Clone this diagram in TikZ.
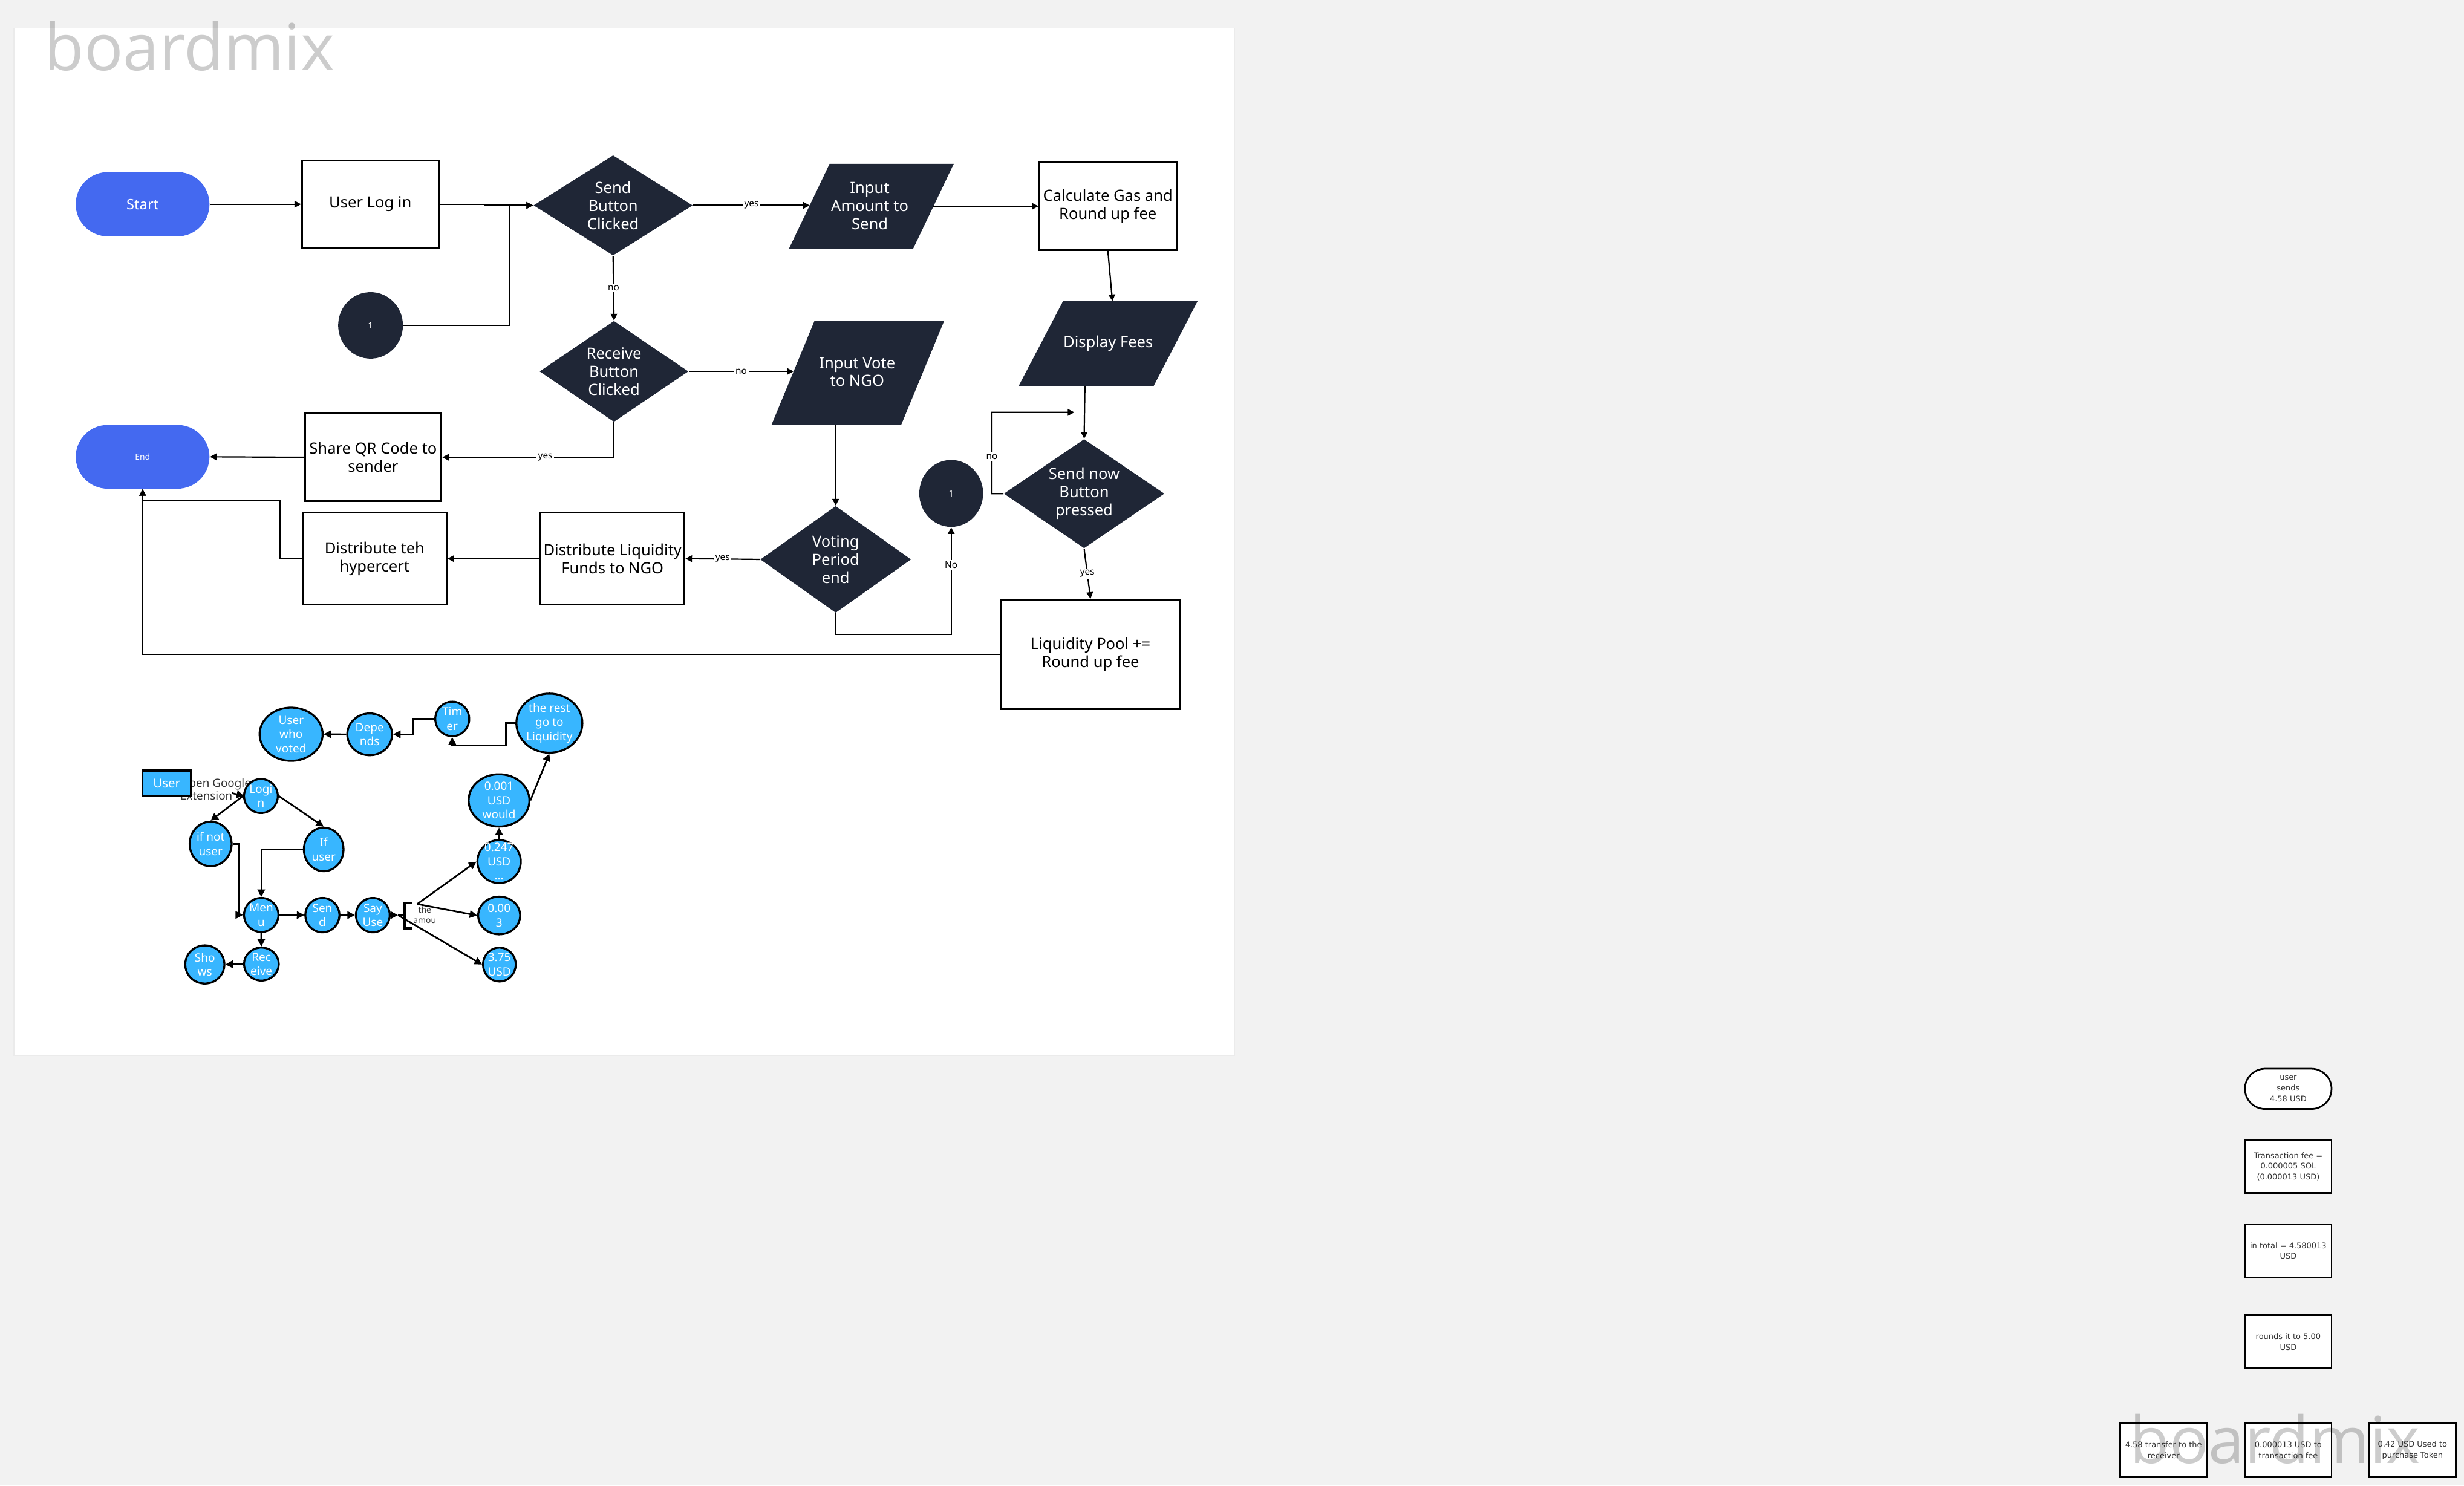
\documentclass[tikz,border=0pt]{standalone}
\usepackage{fontspec}
\setmainfont{Noto Sans}
\newfontfamily\wmfont{Open Sans}
\newfontfamily\legfont{DejaVu Sans}
\usetikzlibrary{arrows.meta,calc,shapes.geometric}
\definecolor{navy}{HTML}{1F2636}
\definecolor{pillblue}{HTML}{4469F0}
\definecolor{bubblue}{HTML}{38B6FF}
\definecolor{bggray}{HTML}{F2F2F2}
\definecolor{txtgray}{HTML}{333333}
\newcommand\fs[2]{\fontsize{#1}{#2}\selectfont}
\begin{document}
\begin{tikzpicture}[x=0.025cm,y=-0.025cm,
  sz/.style 2 args={minimum width=#1*0.025cm,minimum height=#2*0.025cm},
  pill/.style={rectangle,rounded corners=0.51cm,fill=pillblue,inner sep=0pt,text=white},
  box/.style={rectangle,draw=black,line width=0.8pt,fill=white,inner sep=1pt,align=center,font=\fs{7pt}{8.2pt}},
  dia/.style={diamond,fill=navy,inner sep=0pt},
  dtxt/.style={text=white,align=center,font=\fs{7pt}{8.2pt},inner sep=0pt},
  circ/.style={ellipse,fill=navy,inner sep=0pt,text=white,font=\fs{4pt}{5pt}},
  lbl/.style={fill=white,inner sep=0.7pt,font=\fs{4.2pt}{5pt},text=black},
  arr/.style={line width=0.6pt,-{Triangle[length=3pt,width=3pt]}},
  bub/.style={ellipse,draw=black,line width=0.9pt,fill=bubblue,inner sep=0pt},
  btxt/.style={text=white,align=center,font=\fs{5.2pt}{6.4pt},inner sep=0pt},
  carr/.style={line width=0.75pt,-{Triangle[length=3.4pt,width=3.4pt]}},
  cl/.style={line width=0.75pt},
  lbox/.style={rectangle,draw=black,line width=0.75pt,fill=white,align=center,font=\legfont\fs{3.55pt}{4.9pt},text=txtgray,inner sep=0.5pt},
  wm/.style={anchor=base west,inner sep=0pt,font=\wmfont\fs{29.3pt}{30pt},text=black,text opacity=0.2}
]
\useasboundingbox (0,0) rectangle (1568,945.28);
\fill[bggray] (0,0) rectangle (1568,945.28);
\filldraw[fill=white,draw=black!8,line width=0.4pt] (8.9,18) rectangle (785.7,671.6);
\node[wm] (wm1) at (28,44.7) {boardmix};

% ---------- main flow shapes ----------
\node[pill,sz={85.1}{40.9},font=\fs{6.5pt}{7.5pt}] (start) at (90.75,129.95) {Start};
\node[box,sz={86.9}{55.5}] (login) at (235.65,129.95) {User Log in};
\node[dia,sz={101.3}{63.8},label={[dtxt]center:{Send\\Button\\Clicked}}] (send) at (390.15,130.7) {};
\fill[navy] (527.9,104.3) -- (606.9,104.3) -- (581.1,158.2) -- (502.1,158.2) -- cycle;
\node[dtxt] (inamt) at (553.5,131) {Input\\Amount to\\Send};
\coordinate (inamtW) at (515.3,130.7);
\coordinate (inamtE) at (594,131.25);
\node[box,sz={87.2}{55.5}] (calc) at (705,131.25) {Calculate Gas and\\Round up fee};
\fill[navy] (676.5,191.6) -- (762.1,191.6) -- (734.1,245.7) -- (648.2,245.7) -- cycle;
\node[dtxt] (disp) at (705.2,218.4) {Display Fees};
\coordinate (dispN) at (707.9,191.6);
\coordinate (dispS) at (690.4,245.7);
\node[circ,sz={41.2}{42.3}] (c1a) at (235.8,207.05) {1};
\node[dia,sz={94.8}{64.3},label={[dtxt]center:{Receive\\Button\\Clicked}}] (recv) at (390.7,236.35) {};
\fill[navy] (518.4,204) -- (600.9,204) -- (573.4,270.5) -- (490.9,270.5) -- cycle;
\node[dtxt] (invote) at (545.5,236.7) {Input Vote\\to NGO};
\coordinate (invW) at (505,236.35);
\coordinate (invS) at (531.7,270.5);
\node[pill,sz={85.1}{40.6},font=\fs{3.8pt}{4.5pt}] (end) at (90.75,290.7) {End};
\node[box,sz={86.9}{55.6}] (share) at (237.45,291) {Share QR Code to\\sender};
\node[dia,sz={102.2}{69.5},label={[dtxt]center:{Send now\\Button\\pressed}}] (sendnow) at (689.9,314.15) {};
\node[circ,sz={40.6}{42.6}] (c1b) at (605.3,314) {1};
\node[dia,sz={96}{68},label={[dtxt]center:{Voting\\Period\\end}}] (vote) at (531.8,356) {};
\node[box,sz={91.6}{58.6}] (distliq) at (389.8,355.5) {Distribute Liquidity\\Funds to NGO};
\node[box,sz={91.6}{58.6}] (disthyp) at (238.4,355.5) {Distribute teh\\hypercert};
\node[box,sz={113.7}{69.7}] (liq) at (693.95,416.45) {Liquidity Pool +=\\Round up fee};
\coordinate (snloop) at (683.7,262.4);

% ---------- main flow connectors ----------
\draw[arr] (start.east) -- (login.west);
\draw[arr] (login.east) -- ++(29,0) |- (send.west);
\draw[arr] (c1a.east) -| ($(send.west)+(-15.3,0)$) -- (send.west);
\draw[arr] (send.east) -- node[lbl]{yes} (inamtW);
\draw[arr] (inamtE) -- (calc.west);
\draw[arr] (calc.south) -- (dispN);
\draw[arr] (dispS) -- (sendnow.north);
\draw[arr] (sendnow.west) -- ++(-7.3,0) -- node[lbl,pos=0.455]{no} ++(0,-51.75) -- (snloop);
\draw[arr] (sendnow.south) -- node[lbl]{yes} (liq.north);
\draw[arr] (send.south) -- node[lbl]{no} (recv.north);
\draw[arr] (recv.east) -- node[lbl]{no} (invW);
\draw[arr] (recv.south) |- node[lbl,pos=0.7]{yes} (share.east);
\draw[arr] (share.west) -- (end.east);
\draw[arr] (invS) -- (vote.north);
\draw[arr] (vote.west) -- node[lbl]{yes} (distliq.east);
\draw[arr] (distliq.west) -- (disthyp.east);
\draw[arr] (disthyp.west) -- ++(-14,0) -- ++(0,-36.9) -| (end.south);
\draw[arr] (vote.south) -- ++(0,13.5) -| node[lbl,pos=0.825]{No} (c1b.south);
\draw[arr] (liq.west) -| (end.south);

% ---------- cluster ----------
\node[anchor=north west,align=left,font=\fs{5.15pt}{5.9pt},text=txtgray,inner sep=0pt] (ogl) at (114.4,495) {Open Google\\Extension};
\draw[carr,shorten <=0.675cm] (121.5,498.45) -- (155.3,506.55);
\node[draw=black,line width=1pt,fill=bubblue,sz={30.8}{16.1},text=white,font=\fs{5.6pt}{6.5pt},inner sep=0pt] (user) at (106.1,498.45) {User};

\node[bub,sz={40.1}{33.9},label={[btxt]center:{User\\who\\voted}}] (uwv) at (185.25,467.25) {};
\node[bub,sz={28.5}{26.6},label={[btxt]center:{Depe\\nds}}] (dep) at (235.25,467.3) {};
\node[bub,sz={21.6}{22},label={[btxt]center:{Tim\\er}}] (tim) at (287.8,457.5) {};
\node[bub,sz={42}{37.6},label={[btxt]center:{the rest\\go to\\Liquidity}}] (rest) at (349.6,460.2) {};
\node[bub,sz={38.7}{33.3},label={[btxt]center:{0.001\\USD\\would}}] (v001) at (317.55,509.35) {};
\node[bub,sz={27.6}{27.4},label={[btxt]center:{0.247\\USD\\...}}] (v247) at (317.6,548.3) {};
\node[bub,sz={26.7}{24},label={[btxt]center:{0.00\\3}}] (v003) at (317.65,582.6) {};
\node[bub,sz={20.8}{21.6},label={[btxt]center:{3.75\\USD}}] (v375) at (317.8,613.8) {};
\node[bub,sz={21.5}{21.7},label={[btxt]center:{Logi\\n}}] (login2) at (166.05,506.55) {};
\node[bub,sz={26.7}{28.3},label={[btxt]center:{if not\\user}}] (ifnot) at (134.05,537.05) {};
\node[bub,sz={25.2}{27.7},label={[btxt]center:{If\\user}}] (ifuser) at (206,540.55) {};
\node[bub,sz={21.9}{21.7},label={[btxt]center:{Men\\u}}] (menu) at (166.25,582.25) {};
\node[bub,sz={21.7}{21.9},label={[btxt]center:{Sen\\d}}] (send2) at (205.15,582.35) {};
\node[bub,sz={21.5}{21.9},label={[btxt]center:{Say\\Use}}] (say) at (237.25,582.35) {};
\node[bub,sz={22.1}{21},label={[btxt]center:{Rec\\eive}}] (recv2) at (166.35,613.5) {};
\node[bub,sz={24.9}{24.3},label={[btxt]center:{Sho\\ws}}] (shows) at (130.35,613.75) {};

\draw[line width=1pt] (262.4,574.8) -- (257.4,574.8) -- (257.4,590.8) -- (262.4,590.8);
\node[font=\fs{3.8pt}{4.7pt},text=txtgray,align=center,inner sep=0pt] (amou) at (270.3,582.2) {the\\amou};
\coordinate (brk) at (257.4,582.35);
\coordinate (brkt) at (265.5,575.3);

\draw[carr] (login2.west) -- (ifnot.north);
\draw[carr] (login2.east) -- (ifuser.north);
\draw[carr] (ifnot.east) -- ++(4,0) |- (menu.west);
\draw[carr] (ifuser.west) -| (menu.north);
\draw[carr] (menu.east) -- (send2.west);
\draw[carr] (send2.east) -- (say.west);
\draw[carr] (menu.south) -- (recv2.north);
\draw[carr] (recv2.west) -- (shows.east);
\draw[carr] (say.east) -- ++(4.6,0) coordinate (sayx);
\draw[cl] (sayx) -- (brk);
\draw[carr] (brkt) -- (v247.west);
\draw[carr] (brkt) -- (v003.west);
\draw[carr] (sayx) -- (v375.west);
\draw[carr] (v247.north) -- (v001.south);
\draw[carr] (v001.east) -- (rest.south);
\draw[carr] (rest.west) -- ++(-6.1,0) -- ++(0,14.1) -| (tim.south);
\draw[carr] (tim.west) -- ++(-13.5,0) |- (dep.east);
\draw[carr] (dep.west) -- (uwv.east);

% ---------- legend ----------
\node[lbox,rounded corners=0.32cm,sz={55.1}{25.6}] (lg1) at (1456.15,692.9) {user\\sends\\4.58 USD};
\node[lbox,sz={55.1}{33.6}] (lg2) at (1456.15,742.4) {Transaction fee =\\0.000005 SOL\\(0.000013 USD)};
\node[lbox,sz={55.1}{33.8}] (lg3) at (1456.15,796) {in total = 4.580013\\USD};
\node[lbox,sz={55.1}{33.8}] (lg4) at (1456.15,853.8) {rounds it to 5.00\\USD};
\node[lbox,sz={55.5}{33.8}] (lg5) at (1376.8,922.8) {4.58 transfer to the\\receiver};
\node[lbox,sz={55.1}{33.8}] (lg6) at (1456.15,922.8) {0.000013 USD to\\transaction fee};
\node[lbox,sz={55.2}{33.8}] (lg7) at (1535.2,922.8) {0.42 USD Used to\\purchase Token};
\node[wm] (wm2) at (1355.1,931.2) {boardmix};
\end{tikzpicture}
\end{document}
